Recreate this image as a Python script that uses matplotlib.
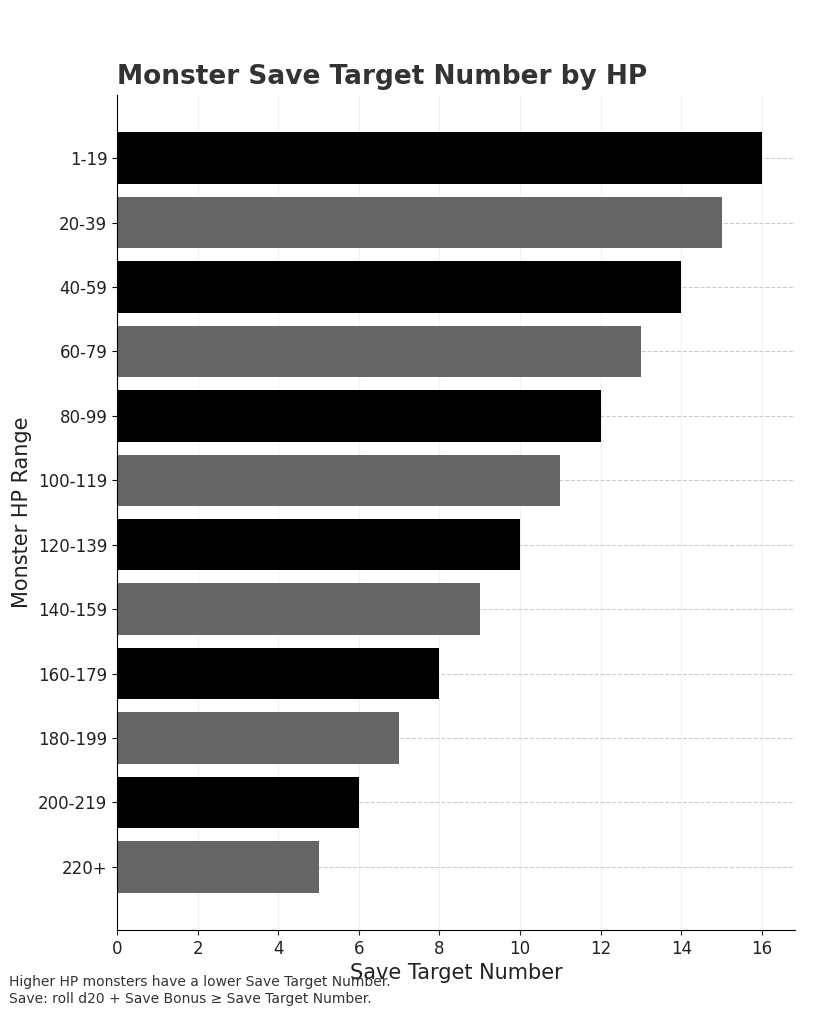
import matplotlib
matplotlib.use("Agg")
import matplotlib.pyplot as plt

categories = ["1-19","20-39","40-59","60-79","80-99","100-119","120-139","140-159","160-179","180-199","200-219","220+"]
values = [16,15,14,13,12,11,10,9,8,7,6,5]
colors = ["#000000" if i % 2 == 0 else "#666666" for i in range(len(values))]

fig = plt.figure(figsize=(8.19,10.24), dpi=100)
ax = fig.add_axes([0.1429,0.0918,0.8278,0.8154])
ax.barh(range(len(values)), values, height=0.8, color=colors, zorder=2)
ax.set_yticks(range(len(values)))
ax.set_yticklabels(categories, fontsize=12, color="#222222")
ax.set_ylim(11.98,-0.98)
ax.set_xlim(0,16.82)
ax.set_xticks(range(0,17,2))
ax.tick_params(axis='x', labelsize=12, colors="#222222")
ax.grid(axis='y', linestyle='--', color='#cccccc', linewidth=0.8, zorder=3)
ax.grid(axis='x', linestyle='-', color='#f2f2f2', linewidth=0.8, zorder=1)
for s in ["top","right"]:
    ax.spines[s].set_visible(False)
ax.set_xlabel("Save Target Number", fontsize=15, color="#222222")
ax.set_ylabel("Monster HP Range", fontsize=15, color="#222222")
fig.text(0.1429, 0.925, "Monster Save Target Number by HP", fontsize=19, fontweight="bold", color="#333333", ha="left", va="center")
fig.text(0.011, 0.018, "Higher HP monsters have a lower Save Target Number.\nSave: roll d20 + Save Bonus \u2265 Save Target Number.", fontsize=10, color="#333333", ha="left", va="bottom")
fig.savefig("out.png", dpi=100)
